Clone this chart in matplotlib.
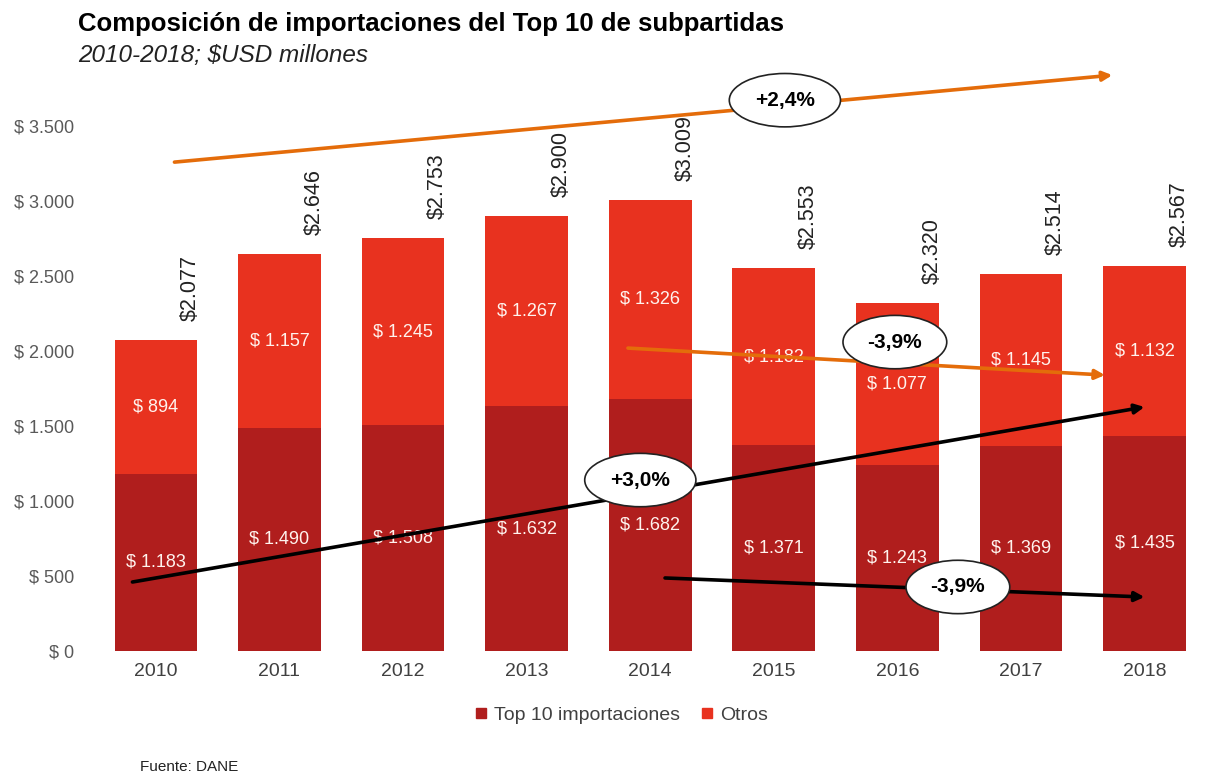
import matplotlib
matplotlib.use("Agg")
import matplotlib.pyplot as plt
from matplotlib.lines import Line2D
import numpy as np

plt.rcParams['font.family'] = ['Liberation Sans Narrow', 'Liberation Sans', 'DejaVu Sans']

years = ['2010', '2011', '2012', '2013', '2014', '2015', '2016', '2017', '2018']
top10 = [1183, 1490, 1508, 1632, 1682, 1371, 1243, 1369, 1435]
otros = [894, 1157, 1245, 1267, 1326, 1182, 1077, 1145, 1132]
totals = [2077, 2646, 2753, 2900, 3009, 2553, 2320, 2514, 2567]

# trend arrows: (x0, y0, x1, y1, label, label_x, label_y, colour)
trend_lines = [
    (0.15, 3260, 7.74, 3840, '+2,4%', 5.09, 3673, '#E46C0A'),
    (3.82, 2020, 7.68, 1840, '-3,9%', 5.98, 2060, '#E46C0A'),
    (-0.19, 460, 8.0, 1627, '+3,0%', 3.92, 1140, 'black'),
    (4.12, 487, 8.0, 360, '-3,9%', 6.49, 427, 'black'),
]

dark_red = '#B01E1D'
light_red = '#E8321F'


def fmt(v):
    return '{:,}'.format(v).replace(',', '.')


fig = plt.figure(figsize=(12.25, 7.75), dpi=100)
ax = fig.add_axes([0.0718, 0.16, 0.923, 0.774])

x = np.arange(len(years))
w = 0.67
ax.bar(x, top10, w, color=dark_red, label='Top 10 importaciones')
ax.bar(x, otros, w, bottom=top10, color=light_red, label='Otros')

for i in range(len(years)):
    ax.text(x[i], top10[i] / 2, '$ ' + fmt(top10[i]), ha='center', va='center',
            color='#FFF3EE', fontsize=13)
    ax.text(x[i], top10[i] + otros[i] / 2, '$ ' + fmt(otros[i]), ha='center', va='center',
            color='#FFF3EE', fontsize=13)
    ax.text(x[i] + 0.28, totals[i] + 125, '$' + fmt(totals[i]), rotation=90,
            ha='center', va='bottom', color='#222222', fontsize=15.5,
            family=['Liberation Sans', 'DejaVu Sans'])

for x0, y0, x1, y1, lab, lx, ly, col in trend_lines:
    ax.annotate('', xy=(x1, y1), xytext=(x0, y0),
                arrowprops=dict(arrowstyle='-|>', color=col, lw=2.6,
                                mutation_scale=14, shrinkA=0, shrinkB=0))
    ax.text(lx, ly, lab, ha='center', va='center', fontsize=15, fontweight='bold',
            family=['Liberation Sans', 'DejaVu Sans'],
            bbox=dict(boxstyle='ellipse,pad=0.45', fc='white', ec='#222222', lw=1.2),
            zorder=5)

ax.set_xlim(-0.55, 8.6)
ax.set_ylim(0, 4000)
ax.set_yticks(np.arange(0, 3501, 500))
ax.set_yticklabels(['$ ' + fmt(v) for v in range(0, 3501, 500)], color='#595959', fontsize=13)
ax.set_xticks(x)
ax.set_xticklabels(years, color='#404040', fontsize=14)
ax.tick_params(length=0, axis='y', pad=10)
ax.tick_params(length=0, axis='x', pad=9)
for s in ax.spines.values():
    s.set_visible(False)

handles = [Line2D([], [], marker='s', linestyle='', color=dark_red, markersize=7),
           Line2D([], [], marker='s', linestyle='', color=light_red, markersize=7)]
fig.legend(handles, ['Top 10 importaciones', 'Otros'], loc='center',
           bbox_to_anchor=(0.505, 0.077), ncol=2, frameon=False, fontsize=14,
           handletextpad=0.05, columnspacing=0.8, handlelength=1.2,
           labelcolor='#404040')

fig.text(0.064, 0.969, 'Composición de importaciones del Top 10 de subpartidas',
         fontsize=18.5, fontweight='bold', ha='left', va='center',
         family=['Liberation Sans', 'DejaVu Sans'])
fig.text(0.064, 0.928, '2010-2018; $USD millones', fontsize=17.5, style='italic',
         ha='left', va='center', color='#222222')
fig.text(0.114, 0.01, 'Fuente: DANE', fontsize=11, ha='left', va='center', color='#222222')

fig.savefig('out.png', dpi=100)
